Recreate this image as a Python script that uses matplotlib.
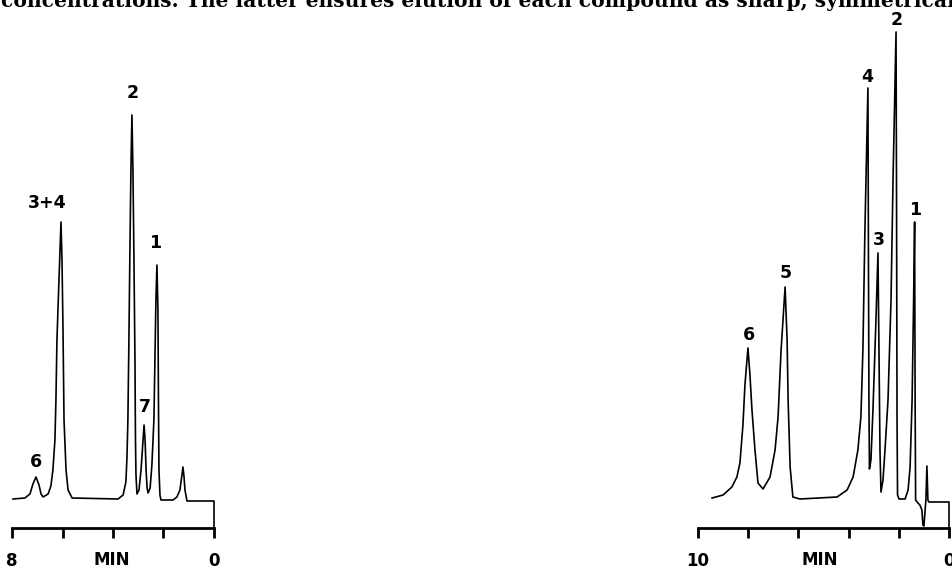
import matplotlib
matplotlib.use('Agg')
import matplotlib.pyplot as plt

# chromatogram A (left): time in min, detector signal (arb. units, baseline = 0)
time_a = [7.96, 7.49, 7.29, 7.17, 7.05, 6.93, 6.85, 6.77, 6.57, 6.46, 6.38, 6.30,
          6.26, 6.22, 6.14, 6.06, 6.02, 5.98, 5.94, 5.86, 5.78, 5.62, 3.80, 3.60,
          3.49, 3.45, 3.41, 3.37, 3.33, 3.29, 3.25, 3.21, 3.17, 3.13, 3.11, 3.09,
          3.05, 2.97, 2.89, 2.81, 2.77, 2.73, 2.69, 2.65, 2.61, 2.53, 2.46, 2.38,
          2.34, 2.30, 2.26, 2.22, 2.20, 2.18, 2.14, 2.10, 1.62, 1.47, 1.35, 1.27,
          1.23, 1.19, 1.15, 1.07, 0.0, 0.0]
signal_a = [0, 1, 5, 15, 22, 14, 5, 2, 5, 13, 29, 59,
            99, 159, 219, 277, 239, 169, 79, 29, 9, 1, 0, 4,
            17, 39, 79, 159, 249, 329, 384, 329, 239, 139, 59, 24,
            5, 9, 29, 59, 74, 59, 29, 11, 6, 11, 34, 79,
            139, 199, 234, 189, 99, 29, 4, -1, -1, 2, 9, 24,
            32, 23, 9, -2, -2, -29]
labels_a = ["6", "3+4", "2", "7", "1"]
label_time_a = [7.05, 6.61, 3.21, 2.73, 2.34]
label_signal_a = [37, 296, 406, 92, 256]
ticks_a = [8, 6, 4, 2, 0]
ticklabels_a = ["8", "", "", "", "0"]

# chromatogram B (right)
time_b = [9.44, 9.00, 8.65, 8.45, 8.33, 8.21, 8.13, 8.01, 7.93, 7.85, 7.73, 7.61,
          7.41, 7.13, 6.93, 6.81, 6.69, 6.53, 6.45, 6.41, 6.33, 6.22, 5.94, 4.46,
          4.06, 3.82, 3.63, 3.51, 3.43, 3.35, 3.23, 3.21, 3.19, 3.17, 3.11, 3.03,
          2.91, 2.83, 2.79, 2.75, 2.71, 2.63, 2.55, 2.43, 2.31, 2.23, 2.11, 2.09,
          2.07, 2.05, 1.99, 1.75, 1.63, 1.55, 1.47, 1.41, 1.37, 1.35, 1.33, 1.24,
          1.16, 1.08, 1.04, 1.00, 0.92, 0.88, 0.84, 0.80, 0.0, 0.0]
signal_b = [1, 4, 12, 22, 36, 74, 114, 151, 124, 89, 49, 16,
            10, 22, 49, 82, 149, 212, 159, 99, 32, 2, 0, 2,
            9, 22, 49, 82, 149, 269, 411, 249, 99, 30, 39, 89,
            179, 246, 149, 49, 7, 19, 49, 99, 199, 319, 467, 299,
            79, 4, 0, 0, 9, 32, 99, 199, 277, 99, -1, -4,
            -6, -11, -26, -27, -1, 33, -1, -3, -3, -29]
labels_b = ["6", "5", "4", "3", "2", "1"]
label_time_b = [7.97, 6.49, 3.27, 2.79, 2.07, 1.35]
label_signal_b = [164, 226, 422, 259, 479, 289]
ticks_b = [10, 8, 6, 4, 2, 0]
ticklabels_b = ["10", "", "", "", "", "0"]

caption = "concentrations. The latter ensures elution of each compound as sharp, symmetrical"

W, H = 953, 571
fig = plt.figure(figsize=(W / 100, H / 100), dpi=100)
fig.patch.set_facecolor('white')

# scanned page: the line of text above the figure is cut at the top edge
fig.text(1 / W, 1 - 7 / H, caption, fontfamily='DejaVu Serif', fontweight='bold',
         fontsize=14.6, va='baseline', ha='left')


def chromatogram(x0, x1, tmax, t, s, labs, lt, ls, ticks, ticklabels, min_t):
    ax = fig.add_axes([x0 / W, (H - 528) / H, (x1 - x0) / W, 528 / H])
    ax.patch.set_alpha(0)
    ax.plot(t, s, color='black', lw=1.2, clip_on=False, solid_joinstyle='round')
    ax.set_xlim(tmax, 0)
    ax.set_ylim(-29, 499)
    for lab, x, y in zip(labs, lt, ls):
        ax.text(x, y, lab, ha='center', va='center', fontsize=12.5, fontweight='bold')
    for side in ['top', 'left', 'right']:
        ax.spines[side].set_visible(False)
    ax.spines['bottom'].set_linewidth(2)
    ax.set_yticks([])
    ax.set_xticks(ticks)
    ax.set_xticklabels(ticklabels, fontsize=12, fontweight='bold')
    ax.tick_params(axis='x', direction='out', length=7, width=2, pad=10)
    ax.text(min_t, -61, "MIN", ha='center', va='center', fontsize=12, fontweight='bold')
    return ax


chromatogram(12, 214, 8, time_a, signal_a, labels_a, label_time_a, label_signal_a,
             ticks_a, ticklabels_a, 4.04)
chromatogram(698, 949, 10, time_b, signal_b, labels_b, label_time_b, label_signal_b,
             ticks_b, ticklabels_b, 5.14)

plt.savefig("out.png", dpi=100)
